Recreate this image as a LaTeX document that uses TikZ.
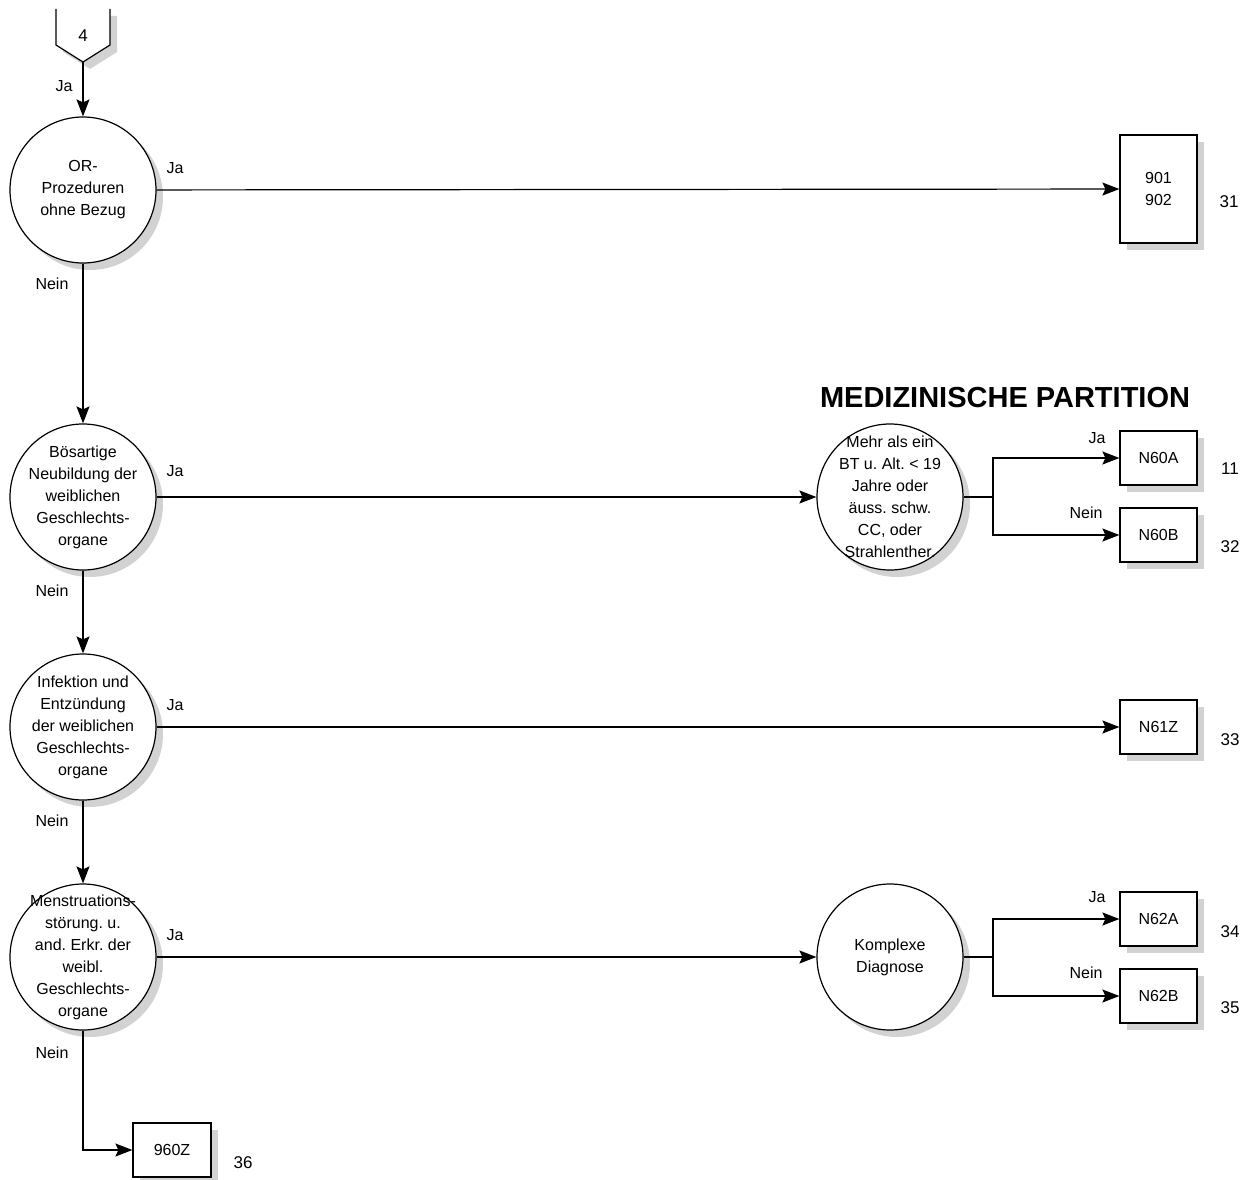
\documentclass[tikz,border=0pt]{standalone}
\usepackage{fontspec}
\setmainfont{Liberation Sans}
\usetikzlibrary{arrows.meta,shadows}
\frenchspacing

\tikzset{
    flow/.style={line width=1.2pt, -{Stealth[length=17pt,width=13pt,inset=3pt]}},
    plain/.style={line width=1.2pt},
    decision/.style={circle, draw, line width=1.2pt, fill=white, minimum size=146pt, inner sep=0pt,
        drop shadow={shadow xshift=7pt, shadow yshift=-7pt, fill=gray!35, opacity=1}},
    dtext/.style={align=center, font=\fontsize{16}{22}\selectfont, inner sep=0pt},
    drgbox/.style={rectangle, draw, line width=1.2pt, fill=white, minimum width=77pt, minimum height=54pt,
        inner sep=0pt, align=center, font=\fontsize{16}{22}\selectfont,
        drop shadow={shadow xshift=7pt, shadow yshift=-7pt, fill=gray!35, opacity=1}},
    lbl/.style={font=\fontsize{16}{20}\selectfont, inner sep=0pt},
    nr/.style={font=\fontsize{17}{20}\selectfont, inner sep=0pt}
}

\begin{document}
\begin{tikzpicture}[x=1pt, y=-1pt]
            \useasboundingbox (0,0) rectangle (1253,1180);

            \fill[gray!35] (63,16) -- (117,16) -- (117,52) -- (90,69) -- (63,52) -- cycle;
            \fill[white] (56,9) -- (110,9) -- (110,45) -- (83,62) -- (56,45) -- cycle;
            \draw[plain] (56,9) -- (56,45) -- (83,62) -- (110,45) -- (110,9);
            \node[lbl, font=\fontsize{17}{20}\selectfont] (off4) at (83,36) {4};
            \coordinate (off4tip) at (83,62);

            \node[decision, label={[dtext]center:{OR-\\Prozeduren\\ohne Bezug}}] (orproz) at (83,190) {};
            \node[decision, label={[dtext]center:{Bösartige\\Neubildung der\\weiblichen\\Geschlechts-\\organe}}] (boesart) at (83,497) {};
            \node[decision, label={[dtext]center:{Infektion und\\Entzündung\\der weiblichen\\Geschlechts-\\organe}}] (infekt) at (83,727) {};
            \node[decision, label={[dtext]center:{Menstruations-\\störung. u.\\and. Erkr. der\\weibl.\\Geschlechts-\\organe}}] (menstr) at (83,957) {};

            \node[decision, label={[dtext]center:{Mehr als ein\\BT u. Alt. < 19\\Jahre oder\\äuss. schw.\\CC, oder\\Strahlenther.}}] (mehrbt) at (890,497) {};
            \node[decision, label={[dtext]center:{Komplexe\\Diagnose}}] (komplex) at (890,957) {};

            \node[drgbox, minimum height=108pt] (b901) at (1158.5,189) {901\\902};
            \node[drgbox] (n60a) at (1158.5,458) {N60A};
            \node[drgbox] (n60b) at (1158.5,535) {N60B};
            \node[drgbox] (n61z) at (1158.5,727) {N61Z};
            \node[drgbox] (n62a) at (1158.5,919) {N62A};
            \node[drgbox] (n62b) at (1158.5,996) {N62B};
            \node[drgbox, minimum width=78pt] (b960z) at (172,1150) {960Z};

            \node[font=\fontsize{29}{34}\selectfont\bfseries, inner sep=0pt] (title) at (1005,398) {MEDIZINISCHE PARTITION};

            \coordinate (br1) at (993,497);
            \coordinate (br2) at (993,957);

            \draw[flow] (off4tip) -- (orproz);
            \draw[flow] (orproz) -- (b901);
            \draw[flow] (orproz) -- (boesart);
            \draw[flow] (boesart) -- (mehrbt);
            \draw[flow] (boesart) -- (infekt);
            \draw[flow] (infekt) -- (n61z);
            \draw[flow] (infekt) -- (menstr);
            \draw[flow] (menstr) -- (komplex);
            \draw[flow] (menstr.south) |- (b960z.west);

            \draw[plain] (mehrbt.east) -- (br1);
            \draw[flow] (br1) |- (n60a.west);
            \draw[flow] (br1) |- (n60b.west);
            \draw[plain] (komplex.east) -- (br2);
            \draw[flow] (br2) |- (n62a.west);
            \draw[flow] (br2) |- (n62b.west);

            \node[lbl] (ja0) at (64,86) {Ja};
            \node[lbl] (ja1) at (175,168) {Ja};
            \node[lbl] (nein1) at (52,284) {Nein};
            \node[lbl] (ja2) at (175,471) {Ja};
            \node[lbl] (nein2) at (52,591) {Nein};
            \node[lbl] (ja3) at (175,705) {Ja};
            \node[lbl] (nein3) at (52,821) {Nein};
            \node[lbl] (ja4) at (175,935) {Ja};
            \node[lbl] (nein4) at (52,1053) {Nein};
            \node[lbl] (ja5) at (1097,438) {Ja};
            \node[lbl] (nein5) at (1086,513) {Nein};
            \node[lbl] (ja6) at (1097,897) {Ja};
            \node[lbl] (nein6) at (1086,973) {Nein};

            \node[nr] (nr31) at (1229,202) {31};
            \node[nr] (nr11) at (1230,469) {11};
            \node[nr] (nr32) at (1230,547) {32};
            \node[nr] (nr33) at (1230,740) {33};
            \node[nr] (nr34) at (1230,932) {34};
            \node[nr] (nr35) at (1230,1008) {35};
            \node[nr] (nr36) at (243,1163) {36};
        \end{tikzpicture}
\end{document}
